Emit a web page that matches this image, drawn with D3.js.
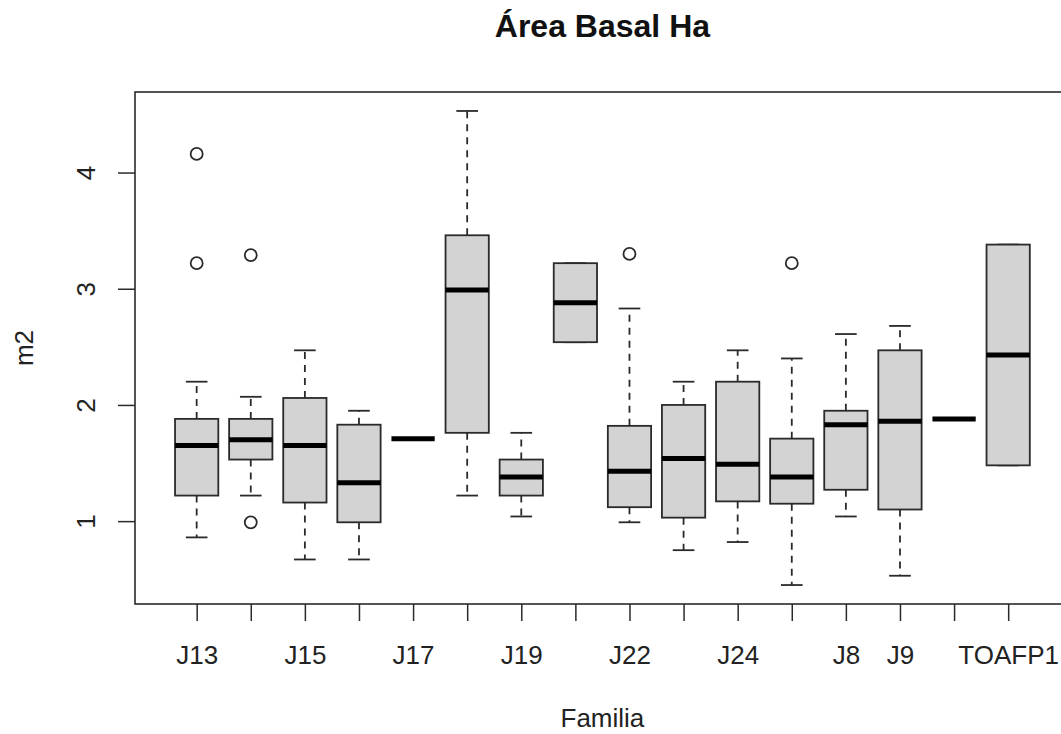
<!DOCTYPE html>
<html>
<head>
<meta charset="utf-8">
<script src="https://cdn.jsdelivr.net/npm/d3@7"></script>
<style>
  html, body { margin: 0; padding: 0; background: #fff; }
  svg { display: block; font-family: "Liberation Sans", Arial, Helvetica, sans-serif; }
</style>
</head>
<body>
<svg id="chart" width="1061" height="734"></svg>
<script>
// ---- data ----
const categories  = ["J13","J14","J15","J16","J17","J18","J19","J20","J22","J23","J24","J25","J8","J9","TOA","TOAFP1"];
const tickLabels  = ["J13","","J15","","J17","","J19","","J22","","J24","","J8","J9","","TOAFP1"];
const whiskerLow  = [0.86, 1.22, 0.67, 0.67, 1.71, 1.22, 1.04, 2.54, 0.99, 0.75, 0.82, 0.45, 1.04, 0.53, 1.88, 1.48];
const boxLow      = [1.22, 1.53, 1.16, 0.99, 1.71, 1.76, 1.22, 2.54, 1.12, 1.03, 1.17, 1.15, 1.27, 1.10, 1.88, 1.48];
const medians     = [1.65, 1.70, 1.65, 1.33, 1.71, 2.99, 1.38, 2.88, 1.43, 1.54, 1.49, 1.38, 1.83, 1.86, 1.88, 2.43];
const boxHigh     = [1.88, 1.88, 2.06, 1.83, 1.71, 3.46, 1.53, 3.22, 1.82, 2.00, 2.20, 1.71, 1.95, 2.47, 1.88, 3.38];
const whiskerHigh = [2.20, 2.07, 2.47, 1.95, 1.71, 4.53, 1.76, 3.22, 2.83, 2.20, 2.47, 2.40, 2.61, 2.68, 1.88, 3.38];
const outlierCats   = ["J13","J13","J14","J14","J22","J25"];
const outlierValues = [4.16, 3.22, 3.29, 0.99, 3.30, 3.22];
const yTicks = [1, 2, 3, 4];
const title = "Área Basal Ha";
const xTitle = "Familia";
const yTitle = "m2";

// ---- layout ----
const svg = d3.select("#chart");
const plotLeft = 135, plotTop = 92, plotBottom = 604;
const n = categories.length;
const xPad = 0.04 * n;
const x = d3.scaleLinear().domain([0.5 - xPad, n + 0.5 + xPad]).range([plotLeft, plotLeft + 17.28 * 54.1]);
const allVals = whiskerLow.concat(whiskerHigh, outlierValues);
const ymin = d3.min(allVals), ymax = d3.max(allVals), yr = ymax - ymin;
const y = d3.scaleLinear().domain([ymin - 0.04 * yr, ymax + 0.04 * yr]).range([plotBottom, plotTop]);
const plotRight = x.range()[1];

const boxHalf = 0.4, stapleHalf = 0.2;
const ink = "#2a2a2a";
const pos = d => categories.indexOf(d) + 1;

const groups = categories.map((c, i) => ({
  c, i: i + 1,
  wl: whiskerLow[i], q1: boxLow[i], med: medians[i], q3: boxHigh[i], wh: whiskerHigh[i]
}));

const g = svg.append("g");

// whiskers (dashed)
g.selectAll(".wh").data(groups).enter().append("line")
  .attr("x1", d => x(d.i)).attr("x2", d => x(d.i))
  .attr("y1", d => y(d.q3)).attr("y2", d => y(d.wh))
  .attr("stroke", ink).attr("stroke-width", 1.8).attr("stroke-dasharray", "7,6");
g.selectAll(".wl").data(groups).enter().append("line")
  .attr("x1", d => x(d.i)).attr("x2", d => x(d.i))
  .attr("y1", d => y(d.q1)).attr("y2", d => y(d.wl))
  .attr("stroke", ink).attr("stroke-width", 1.8).attr("stroke-dasharray", "7,6");
// staples
["wl", "wh"].forEach(k => {
  g.selectAll(".st" + k).data(groups).enter().append("line")
    .attr("x1", d => x(d.i - stapleHalf)).attr("x2", d => x(d.i + stapleHalf))
    .attr("y1", d => y(d[k])).attr("y2", d => y(d[k]))
    .attr("stroke", ink).attr("stroke-width", 1.8);
});
// boxes
g.selectAll(".box").data(groups.filter(d => d.q3 > d.q1)).enter().append("rect")
  .attr("x", d => x(d.i - boxHalf)).attr("width", d => x(d.i + boxHalf) - x(d.i - boxHalf))
  .attr("y", d => y(d.q3)).attr("height", d => y(d.q1) - y(d.q3))
  .attr("fill", "#d3d3d3").attr("stroke", ink).attr("stroke-width", 1.8);
// medians
g.selectAll(".med").data(groups).enter().append("line")
  .attr("x1", d => x(d.i - boxHalf)).attr("x2", d => x(d.i + boxHalf))
  .attr("y1", d => y(d.med)).attr("y2", d => y(d.med))
  .attr("stroke", "#000").attr("stroke-width", 5);
// outliers
g.selectAll(".out").data(outlierValues.map((v, k) => ({ c: outlierCats[k], v }))).enter().append("circle")
  .attr("cx", d => x(pos(d.c))).attr("cy", d => y(d.v)).attr("r", 6)
  .attr("fill", "none").attr("stroke", ink).attr("stroke-width", 1.8);

// frame
svg.append("rect").attr("x", plotLeft).attr("y", plotTop).attr("width", plotRight - plotLeft).attr("height", plotBottom - plotTop)
  .attr("fill", "none").attr("stroke", ink).attr("stroke-width", 1.6);

// x axis
const xAxis = d3.axisBottom(x).tickValues(d3.range(1, n + 1))
  .tickSize(17).tickPadding(0).tickFormat((d, i) => tickLabels[i]);
const xa = svg.append("g").attr("transform", `translate(0,${plotBottom})`).call(xAxis);
xa.select(".domain").remove();
xa.selectAll(".tick line").attr("stroke", ink).attr("stroke-width", 1.5);
xa.selectAll(".tick text").attr("font-size", 26).attr("fill", "#222")
  .attr("font-family", '"Liberation Sans", Arial, sans-serif')
  .attr("y", 60).attr("dy", 0);

// y axis
const yAxis = d3.axisLeft(y).tickValues(yTicks).tickSize(17).tickFormat(d3.format("d"));
const ya = svg.append("g").attr("transform", `translate(${plotLeft},0)`).call(yAxis);
ya.select(".domain").remove();
ya.selectAll(".tick line").attr("stroke", ink).attr("stroke-width", 1.5);
ya.selectAll(".tick text").attr("font-size", 26).attr("fill", "#222")
  .attr("font-family", '"Liberation Sans", Arial, sans-serif')
  .attr("x", null).attr("dy", 0)
  .attr("text-anchor", "middle")
  .attr("transform", "translate(-40,0) rotate(-90)");

// titles
svg.append("text").attr("x", (plotLeft + plotRight) / 2).attr("y", 37).attr("text-anchor", "middle")
  .attr("font-size", 32).attr("font-weight", "bold").attr("fill", "#111").text(title);
svg.append("text").attr("x", (plotLeft + plotRight) / 2).attr("y", 727).attr("text-anchor", "middle")
  .attr("font-size", 26).attr("fill", "#222").text(xTitle);
svg.append("text").attr("transform", `translate(33,${(plotTop + plotBottom) / 2}) rotate(-90)`)
  .attr("text-anchor", "middle").attr("font-size", 26).attr("fill", "#222").text(yTitle);
</script>
</body>
</html>
